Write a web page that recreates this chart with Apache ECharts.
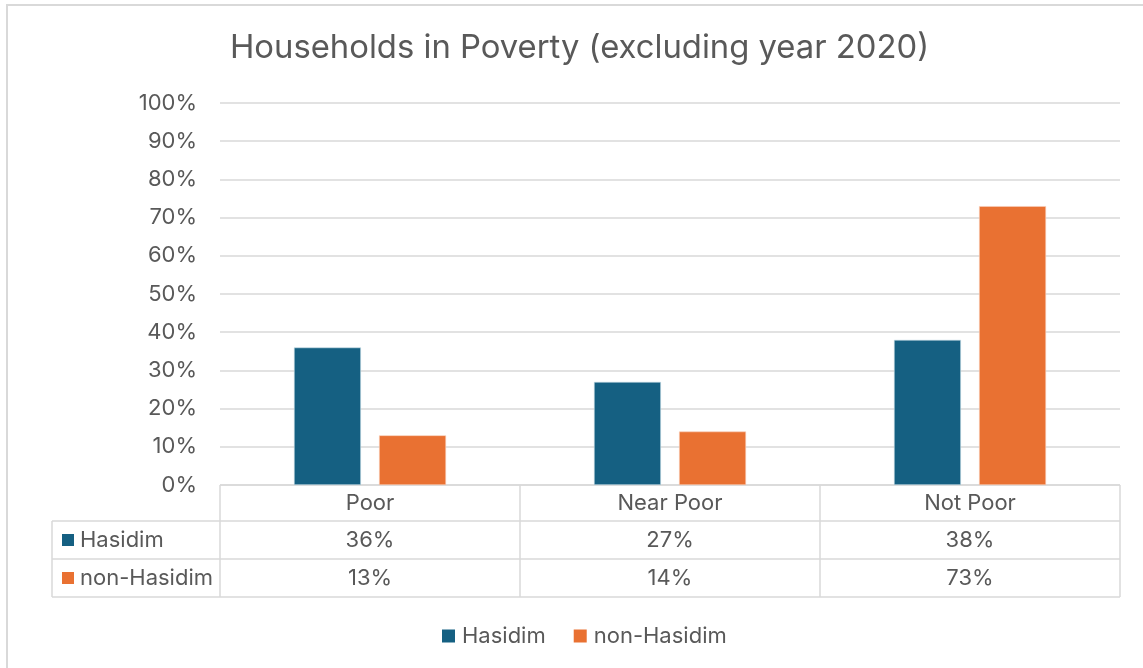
<!DOCTYPE html>
<html>
<head>
<meta charset="utf-8">
<script src="https://cdn.jsdelivr.net/npm/echarts@6/dist/echarts.min.js"></script>
<style>
html,body{margin:0;padding:0;background:#fff;}
#main{width:1143px;height:668px;}
</style>
</head>
<body>
<div id="main"></div>
<script>
//分类
var categories = ['Poor', 'Near Poor', 'Not Poor'];
//系列数据
var seriesNames = ['Hasidim', 'non-Hasidim'];
var hasidim = [36, 27, 38];
var nonHasidim = [13, 14, 73];
var seriesColors = ['#156082', '#E97132'];
//y轴
var yMin = 0, yMax = 100, yStep = 10;

var textColor = '#595959';
var lineColor = '#d9d9d9';
var fontFam = 'Inter, "Noto Sans", sans-serif';
var fs = 22;

var myChart = echarts.init(document.getElementById('main'));
var option = {
	animation: false,
	title: {
		text: 'Households in Poverty (excluding year 2020)',
		left: 225,
		top: 27,
		textStyle: {color: textColor, fontSize: 32.8, fontWeight: 'normal', fontFamily: fontFam}
	},
	legend: {
		top: 620,
		left: 437,
		itemWidth: 13,
		itemHeight: 13,
		itemGap: 28,
		icon: 'rect',
		itemStyle: {borderWidth: 0},
		textStyle: {color: textColor, fontSize: fs, fontFamily: fontFam, padding: [0, 0, 0, 2]},
		data: seriesNames
	},
	grid: {left: 220, right: 23, top: 103, bottom: 183},
	xAxis: [{
		type: 'category',
		data: categories,
		axisLine: {show: false},
		axisTick: {show: false},
		axisLabel: {show: false}
	}],
	yAxis: [{
		type: 'value',
		min: yMin,
		max: yMax,
		interval: yStep,
		axisLine: {show: false},
		axisTick: {show: false},
		axisLabel: {formatter: '{value}%', color: textColor, fontSize: fs, fontFamily: fontFam, margin: 23},
		splitLine: {lineStyle: {color: lineColor, width: 1.5}}
	}],
	series: [
		{
			name: seriesNames[0],
			type: 'bar',
			data: hasidim,
			barWidth: 67,
			barGap: '27%',
			itemStyle: {color: seriesColors[0], borderColor: '#cfe0ea', borderWidth: 0.6}
		},
		{
			name: seriesNames[1],
			type: 'bar',
			data: nonHasidim,
			barWidth: 67,
			barGap: '27%',
			itemStyle: {color: seriesColors[1], borderColor: '#f8d2bd', borderWidth: 0.6}
		}
	]
};
myChart.setOption(option);

//数据表
function drawTable(){
	var y0 = myChart.convertToPixel({yAxisIndex: 0}, 0);
	var rowH = [36, 38, 38];
	var xLeft = 220, xRight = 1120, xLabel = 52;
	var bounds = [xLeft];
	for (var i = 0; i < categories.length - 1; i++) {
		var a = myChart.convertToPixel({xAxisIndex: 0}, categories[i]);
		var b = myChart.convertToPixel({xAxisIndex: 0}, categories[i + 1]);
		bounds.push((a + b) / 2);
	}
	bounds.push(xRight);
	var rowsY = [y0, y0 + rowH[0], y0 + rowH[0] + rowH[1], y0 + rowH[0] + rowH[1] + rowH[2]];
	var els = [];
	var ls = {stroke: lineColor, lineWidth: 1.5};
	//外框
	els.push({type: 'rect', shape: {x: 7, y: 5, width: 1200, height: 700}, style: {fill: 'none', stroke: '#d9d9d9', lineWidth: 2}, silent: true});
	//横线
	els.push({type: 'line', shape: {x1: xLeft, y1: rowsY[0], x2: xRight, y2: rowsY[0]}, style: ls});
	for (var r = 1; r < rowsY.length; r++) {
		els.push({type: 'line', shape: {x1: xLabel, y1: rowsY[r], x2: xRight, y2: rowsY[r]}, style: ls});
	}
	//竖线
	els.push({type: 'line', shape: {x1: xLabel, y1: rowsY[1], x2: xLabel, y2: rowsY[3]}, style: ls});
	for (var k = 0; k < bounds.length; k++) {
		els.push({type: 'line', shape: {x1: bounds[k], y1: rowsY[0], x2: bounds[k], y2: rowsY[3]}, style: ls});
	}
	var ts = {fill: textColor, fontSize: fs, fontFamily: fontFam, verticalAlign: 'middle'};
	var rows = [hasidim, nonHasidim];
	for (var c = 0; c < categories.length; c++) {
		var cx = myChart.convertToPixel({xAxisIndex: 0}, categories[c]);
		els.push({type: 'text', x: cx, y: (rowsY[0] + rowsY[1]) / 2, style: Object.assign({text: categories[c], align: 'center'}, ts)});
		for (var s = 0; s < rows.length; s++) {
			els.push({type: 'text', x: cx, y: (rowsY[s + 1] + rowsY[s + 2]) / 2, style: Object.assign({text: rows[s][c] + '%', align: 'center'}, ts)});
		}
	}
	for (var s2 = 0; s2 < seriesNames.length; s2++) {
		var my = (rowsY[s2 + 1] + rowsY[s2 + 2]) / 2;
		els.push({type: 'rect', shape: {x: 62, y: my - 6, width: 12, height: 12}, style: {fill: seriesColors[s2]}});
		els.push({type: 'text', x: 80, y: my, style: Object.assign({text: seriesNames[s2], align: 'left'}, ts)});
	}
	myChart.setOption({graphic: els});
}
drawTable();
</script>
</body>
</html>
